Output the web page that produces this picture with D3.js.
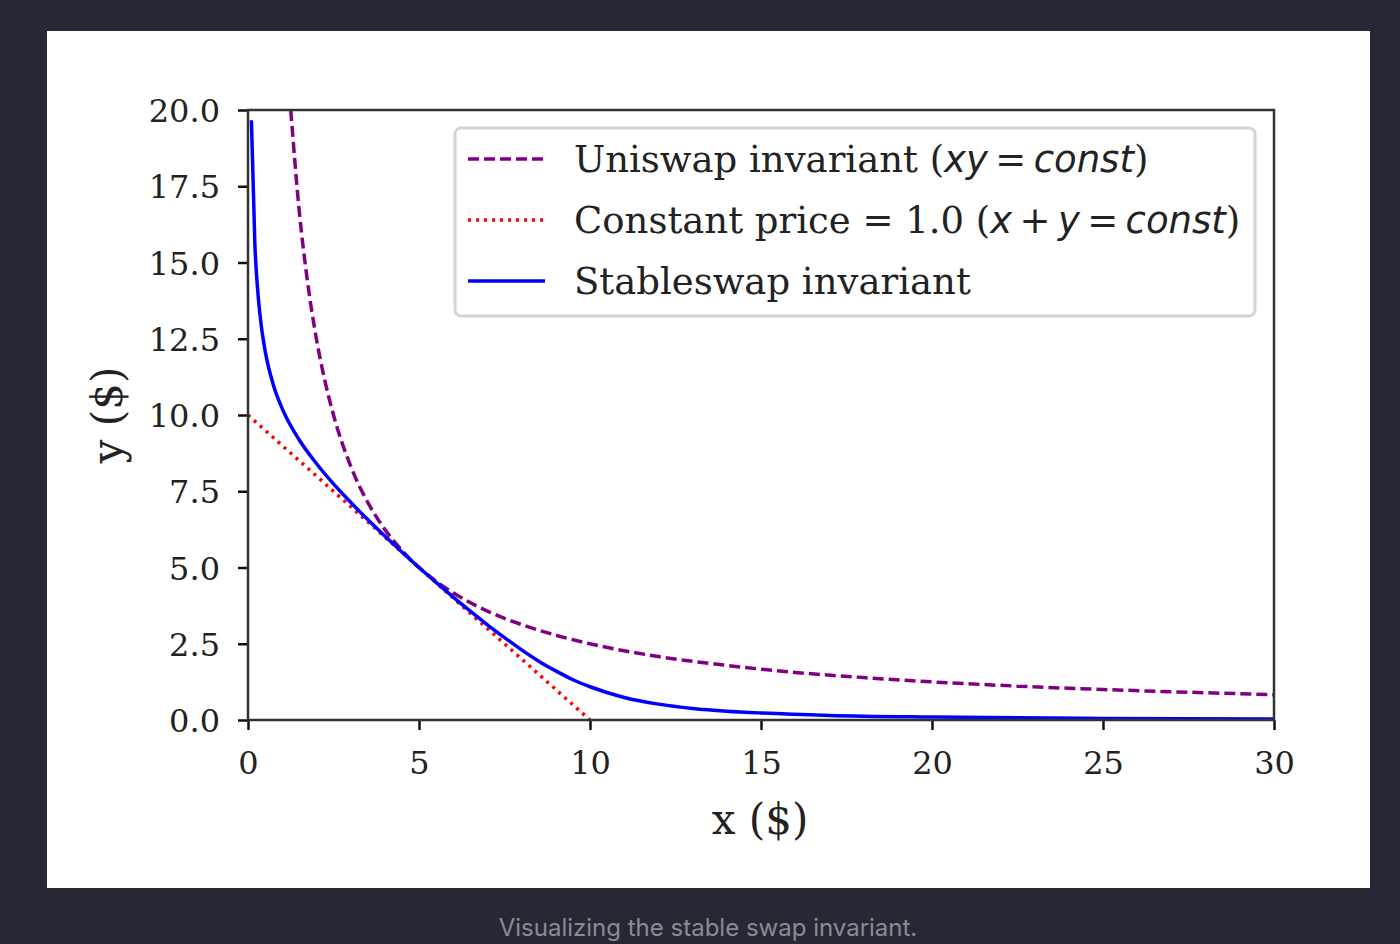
<!DOCTYPE html>
<html>
<head>
<meta charset="utf-8">
<script src="https://cdn.jsdelivr.net/npm/d3@7"></script>
<style>
  html, body { margin: 0; padding: 0; background: #262834; }
  svg { display: block; }
</style>
</head>
<body>
<svg id="chart"></svg>
<script>
// values
const xTicks = [0, 5, 10, 15, 20, 25, 30];
const yTicks = [0, 2.5, 5, 7.5, 10, 12.5, 15, 17.5, 20];

const uniswapX = [1.25, 1.5, 1.75, 2, 2.25, 2.5, 3, 3.5, 4, 4.5, 5, 5.5, 6, 7, 8, 9, 10, 12, 14, 16, 18, 20, 22.5, 25, 27.5, 30];
const uniswapY = [20, 16.67, 14.29, 12.5, 11.11, 10, 8.33, 7.14, 6.25, 5.56, 5, 4.55, 4.17, 3.57, 3.13, 2.78, 2.5, 2.08, 1.79, 1.56, 1.39, 1.25, 1.11, 1.0, 0.91, 0.83];

const constX = [0, 10];
const constY = [10, 0];

const stableX = [0.1, 0.2, 0.3, 0.4, 0.5, 0.75, 1, 1.5, 2, 2.5, 3, 3.5, 4, 4.5, 5, 5.5, 6, 6.5, 7, 7.5, 8, 8.5, 9, 9.5, 10, 11, 12, 13, 14, 15, 17, 20, 25, 30];
const stableY = [19.66, 15.63, 13.87, 12.83, 12.11, 10.95, 10.21, 9.18, 8.41, 7.74, 7.14, 6.57, 6.03, 5.51, 5.0, 4.51, 4.03, 3.57, 3.12, 2.70, 2.30, 1.93, 1.61, 1.32, 1.09, 0.74, 0.52, 0.38, 0.29, 0.23, 0.15, 0.095, 0.052, 0.033];

const W = 1400, H = 944;
const margin = { left: 248, right: 126, top: 110, bottom: 224 };
const serif = "'DejaVu Serif', serif";
const sans = "'DejaVu Sans', sans-serif";
const lw = 3.5;

const svg = d3.select('#chart').attr('width', W).attr('height', H);

// white card behind the figure
svg.append('rect')
  .attr('x', 47).attr('y', 31)
  .attr('width', 1323).attr('height', 857)
  .attr('fill', '#ffffff');

const x = d3.scaleLinear().domain([0, 30]).range([margin.left, W - margin.right]);
const y = d3.scaleLinear().domain([0, 20]).range([H - margin.bottom, margin.top]);

svg.append('clipPath').attr('id', 'plotclip')
  .append('rect')
  .attr('x', x(0)).attr('y', y(20))
  .attr('width', x(30) - x(0)).attr('height', y(0) - y(20));

const line = d3.line()
  .x(d => x(d[0]))
  .y(d => y(d[1]))
  .curve(d3.curveMonotoneX);

const plot = svg.append('g').attr('clip-path', 'url(#plotclip)');

plot.append('path')
  .datum(d3.zip(uniswapX, uniswapY))
  .attr('d', line)
  .attr('fill', 'none')
  .attr('stroke', '#800080')
  .attr('stroke-width', lw)
  .attr('stroke-dasharray', '11,5');

plot.append('path')
  .datum(d3.zip(constX, constY))
  .attr('d', line)
  .attr('fill', 'none')
  .attr('stroke', '#ff0000')
  .attr('stroke-width', lw)
  .attr('stroke-dasharray', '3,5');

plot.append('path')
  .datum(d3.zip(stableX, stableY))
  .attr('d', line)
  .attr('fill', 'none')
  .attr('stroke', '#0000ff')
  .attr('stroke-width', lw);

// axes
const xAxis = svg.append('g')
  .attr('transform', `translate(0,${y(0)})`)
  .call(d3.axisBottom(x).tickValues(xTicks).tickFormat(d3.format('d')).tickSize(10).tickPadding(21));

const yAxis = svg.append('g')
  .attr('transform', `translate(${x(0)},0)`)
  .call(d3.axisLeft(y).tickValues(yTicks).tickFormat(d3.format('.1f')).tickSize(10).tickPadding(18));

[xAxis, yAxis].forEach(g => {
  g.select('.domain').remove();
  g.selectAll('.tick line').attr('stroke', '#111').attr('stroke-width', 2.5);
  g.selectAll('.tick text')
    .attr('fill', '#222')
    .style('font-family', serif)
    .style('font-size', '32px');
});
yAxis.selectAll('.tick text').attr('dy', '0.36em');

// frame
svg.append('rect')
  .attr('x', x(0)).attr('y', y(20))
  .attr('width', x(30) - x(0)).attr('height', y(0) - y(20))
  .attr('fill', 'none')
  .attr('stroke', '#333')
  .attr('stroke-width', 2.5);

// axis titles
svg.append('text')
  .attr('x', (x(0) + x(30)) / 2 - 1)
  .attr('y', 834)
  .attr('text-anchor', 'middle')
  .style('font-family', serif)
  .style('font-size', '42px')
  .attr('fill', '#222')
  .text('x ($)');

svg.append('text')
  .attr('transform', `translate(122,${(y(0) + y(20)) / 2}) rotate(-90)`)
  .attr('text-anchor', 'middle')
  .style('font-family', serif)
  .style('font-size', '42px')
  .attr('fill', '#222')
  .text('y ($)');

// legend
const legend = svg.append('g');
legend.append('rect')
  .attr('x', 455).attr('y', 128)
  .attr('width', 800).attr('height', 188)
  .attr('rx', 6)
  .attr('fill', '#ffffff')
  .attr('fill-opacity', 0.8)
  .attr('stroke', '#d4d4d4')
  .attr('stroke-width', 3);

const thin = '\u2009';
const entries = [
  { color: '#800080', dash: '11,5', parts: [['Uniswap invariant (', serif, 'normal'], ['xy', sans, 'italic'], [thin + '=' + thin, sans, 'normal'], ['const', sans, 'italic'], [')', serif, 'normal']] },
  { color: '#ff0000', dash: '3,5', parts: [['Constant price = 1.0 (', serif, 'normal'], ['x', sans, 'italic'], [thin + '+' + thin, sans, 'normal'], ['y', sans, 'italic'], [thin + '=' + thin, sans, 'normal'], ['const', sans, 'italic'], [')', serif, 'normal']] },
  { color: '#0000ff', dash: null, parts: [['Stableswap invariant', serif, 'normal']] }
];

entries.forEach((e, i) => {
  const cy = 159 + i * 61;
  legend.append('line')
    .attr('x1', 468).attr('x2', 545)
    .attr('y1', cy).attr('y2', cy)
    .attr('stroke', e.color)
    .attr('stroke-width', lw)
    .attr('stroke-dasharray', e.dash);
  const t = legend.append('text')
    .attr('x', 574).attr('y', cy + 13)
    .style('font-size', '37px')
    .attr('fill', '#222')
    .attr('xml:space', 'preserve');
  e.parts.forEach(p => {
    t.append('tspan')
      .style('font-family', p[1])
      .style('font-style', p[2])
      .text(p[0]);
  });
});

// caption under the card
svg.append('text')
  .attr('x', 708).attr('y', 936)
  .attr('text-anchor', 'middle')
  .style('font-family', "Inter, 'Open Sans', sans-serif")
  .style('font-size', '24px')
  .attr('fill', '#8b8c92')
  .text('Visualizing the stable swap invariant.');
</script>
</body>
</html>
